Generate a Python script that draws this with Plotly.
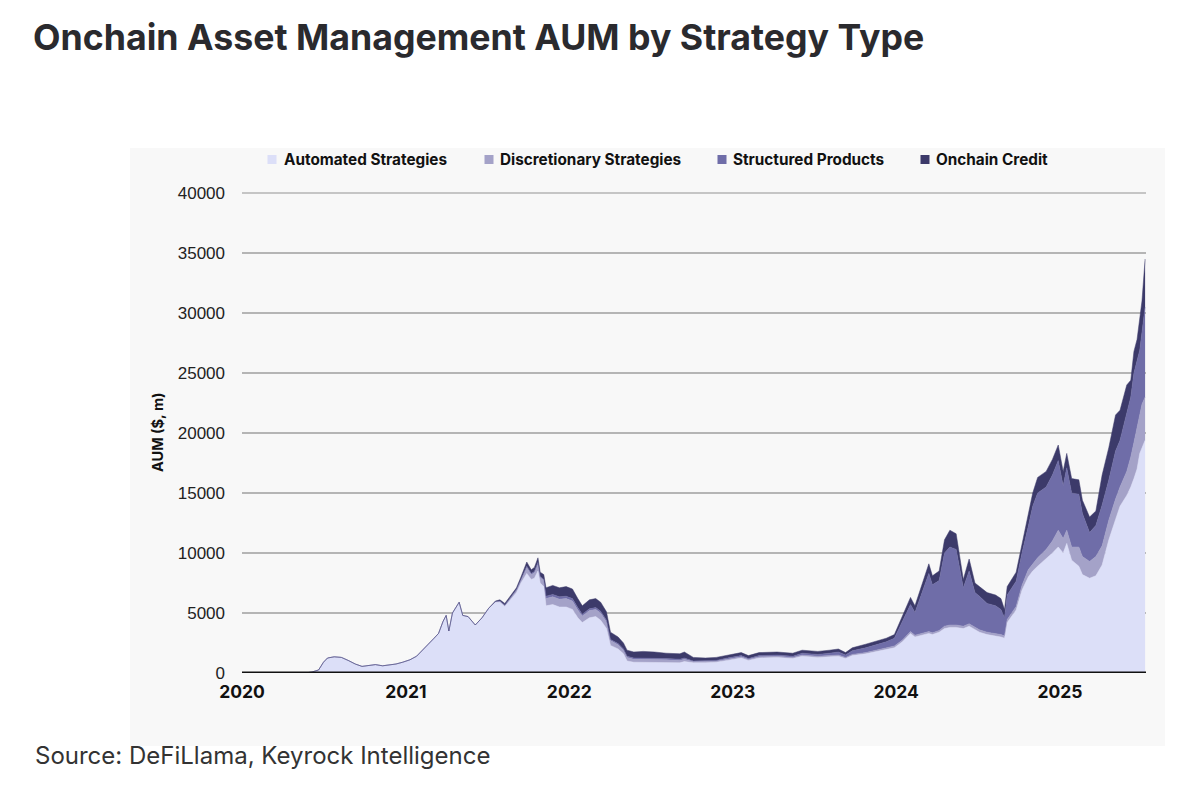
import plotly.graph_objects as go

dates = [
    "2020-01-01", "2020-05-20", "2020-06-05", "2020-06-20", "2020-07-01", "2020-07-10", "2020-07-25",
    "2020-08-10", "2020-08-25", "2020-09-10", "2020-09-25", "2020-10-10", "2020-10-25", "2020-11-10",
    "2020-11-25", "2020-12-10", "2020-12-25", "2021-01-10", "2021-01-25", "2021-02-08", "2021-02-20",
    "2021-03-05", "2021-03-15", "2021-03-25", "2021-04-01", "2021-04-07", "2021-04-15", "2021-04-30",
    "2021-05-08", "2021-05-20", "2021-06-05", "2021-06-20", "2021-07-05", "2021-07-20", "2021-07-30",
    "2021-08-10", "2021-08-20", "2021-09-05", "2021-09-15", "2021-09-28", "2021-10-08", "2021-10-15",
    "2021-10-23", "2021-10-28", "2021-11-05", "2021-11-10", "2021-11-25", "2021-12-10", "2021-12-25",
    "2022-01-08", "2022-01-20", "2022-01-30", "2022-02-15", "2022-03-01", "2022-03-12", "2022-03-25",
    "2022-04-03", "2022-04-20", "2022-05-02", "2022-05-10", "2022-05-25", "2022-06-15", "2022-07-10",
    "2022-08-05", "2022-09-05", "2022-09-15", "2022-10-05", "2022-11-01", "2022-11-25", "2022-12-20",
    "2023-01-20", "2023-02-05", "2023-03-01", "2023-04-10", "2023-05-15", "2023-06-05", "2023-07-10",
    "2023-08-05", "2023-08-25", "2023-09-10", "2023-09-25", "2023-10-25", "2023-11-20", "2023-12-10",
    "2023-12-28", "2024-01-15", "2024-02-02", "2024-02-12", "2024-03-05", "2024-03-14", "2024-03-22",
    "2024-04-06", "2024-04-18", "2024-04-30", "2024-05-14", "2024-05-25", "2024-05-30", "2024-06-12",
    "2024-06-25", "2024-07-05", "2024-07-22", "2024-08-10", "2024-08-22", "2024-08-30", "2024-09-05",
    "2024-09-25", "2024-10-08", "2024-10-22", "2024-11-01", "2024-11-12", "2024-12-01", "2024-12-15",
    "2024-12-28", "2025-01-08", "2025-01-16", "2025-01-27", "2025-02-12", "2025-02-20", "2025-03-08",
    "2025-03-22", "2025-04-05", "2025-04-20", "2025-05-05", "2025-05-15", "2025-05-30", "2025-06-08",
    "2025-06-15", "2025-06-22", "2025-06-28", "2025-07-03", "2025-07-10",
]

automated = [
    0, 0, 80, 250, 900, 1250, 1350,
    1300, 1050, 750, 550, 650, 700, 600,
    650, 750, 900, 1100, 1400, 1900, 2400,
    2900, 3300, 4300, 4800, 3500, 5000, 5900,
    4800, 4700, 4000, 4600, 5400, 5900, 5900,
    5550, 6000, 6700, 7500, 8300, 7800, 7900,
    8500, 7500, 7200, 5600, 5700, 5500, 5500,
    5300, 4600, 4200, 4600, 4700, 4400, 3700,
    2300, 2000, 1600, 1000, 900, 900, 900,
    850, 850, 950, 850, 850, 900, 1050,
    1250, 1050, 1250, 1300, 1200, 1400, 1300,
    1350, 1400, 1200, 1450, 1600, 1800, 1900,
    2100, 2600, 3300, 3000, 3200, 3300, 3200,
    3400, 3700, 3800, 3800, 3750, 3700, 3900,
    3600, 3400, 3200, 3100, 3000, 2900, 4200,
    5250, 6900, 8000, 8500, 8900, 9500, 10000,
    10500, 10000, 10800, 9400, 8900, 8200, 7900,
    8100, 9000, 11100, 12800, 13900, 14800, 15500,
    16200, 17000, 18300, 18800, 19400,
]

discretionary = [
    0, 0, 0, 0, 0, 0, 0,
    0, 0, 0, 0, 0, 0, 0,
    0, 0, 0, 0, 0, 0, 0,
    0, 0, 0, 0, 0, 0, 0,
    0, 0, 0, 0, 0, 50, 100,
    100, 150, 200, 250, 500, 400, 450,
    550, 450, 500, 600, 650, 650, 700,
    700, 650, 550, 600, 600, 600, 550,
    400, 350, 300, 300, 250, 250, 250,
    250, 200, 200, 100, 100, 100, 100,
    100, 100, 100, 100, 100, 100, 100,
    100, 100, 100, 100, 100, 100, 150,
    150, 150, 150, 150, 150, 150, 150,
    150, 200, 200, 200, 200, 200, 200,
    200, 200, 200, 200, 200, 200, 250,
    300, 400, 600, 600, 700, 800, 1000,
    1400, 1200, 1100, 1100, 1600, 1500, 1400,
    1600, 1600, 1650, 1700, 1600, 2000, 2500,
    3000, 3400, 3400, 3600, 3600,
]

structured = [
    0, 0, 0, 0, 0, 0, 0,
    0, 0, 0, 0, 0, 0, 0,
    0, 0, 0, 0, 0, 0, 0,
    0, 0, 0, 0, 0, 0, 0,
    0, 0, 0, 0, 0, 0, 0,
    0, 0, 50, 50, 100, 100, 100,
    150, 100, 100, 200, 200, 200, 200,
    200, 200, 150, 150, 150, 150, 150,
    100, 100, 100, 100, 100, 100, 100,
    100, 100, 100, 50, 50, 50, 100,
    100, 50, 100, 100, 100, 150, 150,
    200, 250, 200, 300, 400, 500, 550,
    650, 1500, 2250, 1900, 3950, 4850, 4000,
    4150, 6100, 6500, 6300, 4150, 3200, 4400,
    2900, 2800, 2400, 2300, 2100, 1500, 2050,
    2100, 2700, 3600, 4800, 5400, 5200, 5500,
    5800, 4400, 5200, 4500, 4400, 3600, 2400,
    2600, 3400, 3350, 4000, 3900, 5000, 5000,
    5800, 5600, 5200, 6000, 7500,
]

credit = [
    0, 0, 0, 0, 0, 0, 0,
    0, 0, 0, 0, 0, 0, 0,
    0, 0, 0, 0, 0, 0, 0,
    0, 0, 0, 0, 0, 0, 0,
    0, 0, 0, 0, 0, 50, 100,
    150, 150, 150, 200, 350, 300, 350,
    400, 350, 400, 700, 750, 750, 800,
    800, 750, 700, 750, 750, 750, 700,
    600, 550, 500, 500, 500, 550, 500,
    450, 450, 500, 300, 250, 250, 250,
    250, 250, 250, 250, 250, 250, 250,
    250, 250, 200, 250, 300, 300, 300,
    300, 450, 600, 550, 700, 800, 750,
    800, 1100, 1400, 1300, 800, 700, 1000,
    800, 800, 900, 900, 900, 700, 700,
    750, 800, 1100, 1100, 1300, 1300, 1300,
    1300, 1200, 1200, 1200, 1200, 1100, 1300,
    1200, 2500, 2700, 3000, 2500, 2200, 1400,
    1800, 1800, 2500, 2600, 4000,
]

series_names = ["Automated Strategies", "Discretionary Strategies", "Structured Products", "Onchain Credit"]
series_values = [automated, discretionary, structured, credit]
colors = ["#dcdff8", "#a4a2c8", "#6f6da8", "#3c3a6a"]

y_ticks = [0, 5000, 10000, 15000, 20000, 25000, 30000, 35000, 40000]

# The page body has an 8px margin; work in reference-pixel coordinates and compensate.
OFF = 8
W, H = 1200 - 2 * OFF, 799 - 2 * OFF
L, R, T, B = 242 - OFF, 1146 - OFF, 193 - OFF, 673 - OFF


def px_x(p):
    return (p - OFF - L) / (R - L)


def px_y(p):
    return (B - (p - OFF)) / (B - T)


fig = go.Figure()
for name, vals, col in zip(series_names, series_values, colors):
    fig.add_trace(go.Scatter(
        x=dates, y=vals, name=name, mode="lines", stackgroup="one",
        line=dict(width=0.5, color=col), fillcolor=col, showlegend=False,
        hovertemplate="%{x|%b %Y}: %{y}<extra>" + name + "</extra>",
    ))

shapes = [
    # gray panel
    dict(type="rect", xref="paper", yref="paper", x0=px_x(130), x1=px_x(1165),
         y0=px_y(746), y1=px_y(148), fillcolor="#f8f8f8", line=dict(width=0), layer="below"),
    # top gridline (at range edge)
    dict(type="line", xref="paper", yref="paper", x0=0, x1=1, y0=1, y1=1,
         line=dict(color="#b5b5b5", width=1.5), layer="below"),
    # zero line
    dict(type="line", xref="paper", yref="y", x0=0, x1=1, y0=0, y1=0,
         line=dict(color="#111111", width=3), layer="above"),
]

annotations = []
legend_sq = [272, 489, 722, 925]
legend_tx = [282, 498, 731, 934]
for sq, tx, name, col in zip(legend_sq, legend_tx, series_names, colors):
    shapes.append(dict(type="rect", xref="paper", yref="paper",
                       x0=px_x(sq - 4.5), x1=px_x(sq + 4.5), y0=px_y(164), y1=px_y(155),
                       fillcolor=col, line=dict(width=0)))
    annotations.append(dict(xref="paper", yref="paper", x=px_x(tx), y=px_y(159.5),
                            xanchor="left", yanchor="middle", showarrow=False, text=name,
                            font=dict(family="Inter", size=15.3, color="#111111", weight=700)))

annotations.append(dict(xref="paper", yref="paper", x=px_x(157), y=px_y(432), textangle=-90,
                        xanchor="center", yanchor="middle", showarrow=False, text="AUM ($, m)",
                        font=dict(family="Inter", size=14.5, color="#111111", weight=700)))
annotations.append(dict(xref="paper", yref="paper", x=px_x(33), y=px_y(755),
                        xanchor="left", yanchor="middle", showarrow=False,
                        text="Source: DeFiLlama, Keyrock Intelligence",
                        font=dict(family="Inter", size=24, color="#333333")))

fig.update_layout(
    width=W, height=H,
    margin=dict(l=L, r=W - R, t=T, b=H - B, pad=0),
    paper_bgcolor="white", plot_bgcolor="#f8f8f8",
    title=dict(text="Onchain Asset Management AUM by Strategy Type", xref="container", yref="container",
               x=(33 - OFF) / W, y=1 - (38 - OFF) / H, xanchor="left", yanchor="middle",
               font=dict(family="Inter", size=35.7, color="#2a2a2e", weight=700)),
    shapes=shapes, annotations=annotations, showlegend=False,
    xaxis=dict(type="date", range=["2020-01-01", "2025-07-12"], tickformat="%Y", dtick="M12",
               tick0="2020-01-01", showgrid=False, zeroline=False, showline=False, ticks="",
               ticklabelstandoff=6,
               tickfont=dict(family="Inter", size=17.5, color="#111111", weight=700)),
    yaxis=dict(range=[0, 40000], tickvals=y_ticks, tickformat="d", showgrid=True,
               gridcolor="#b5b5b5", gridwidth=1.5,
               zeroline=False, showline=False, ticks="", ticklabelstandoff=16,
               tickfont=dict(family="Liberation Sans", size=17, color="#222222")),
)

fig.write_html("out.html")
